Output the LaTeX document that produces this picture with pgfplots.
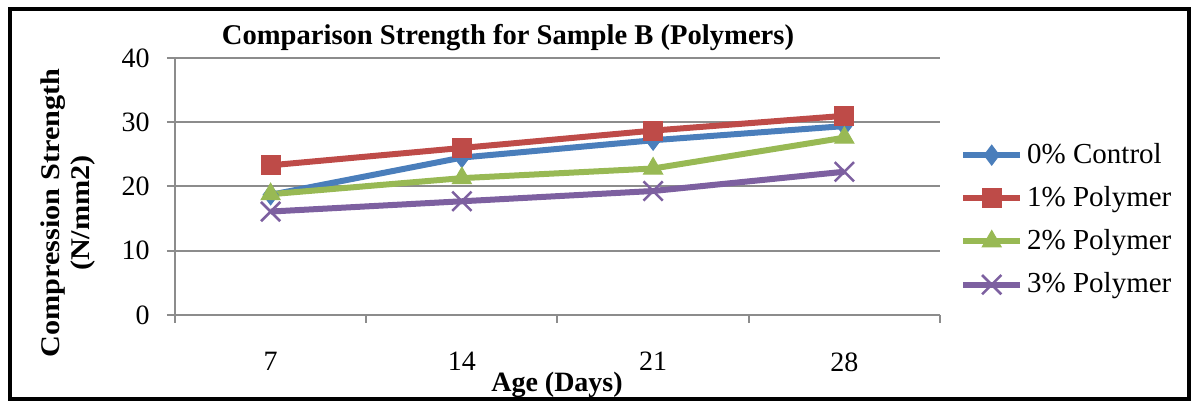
\documentclass[border=0pt]{standalone}
\usepackage{pgfplots}
\pgfplotsset{compat=1.18}
\usepackage{fontspec}
\setmainfont{Liberation Serif}
\definecolor{cblue}{HTML}{4A7EBB}
\definecolor{cred}{HTML}{BE4B48}
\definecolor{cgreen}{HTML}{98B954}
\definecolor{cpurple}{HTML}{7D60A0}
\definecolor{gridc}{HTML}{8C8C8C}
\begin{document}
\fontsize{13.5}{16}\selectfont
\begin{tikzpicture}
\useasboundingbox (-87.5pt,-45.5pt) rectangle (510pt,157.5pt);
\begin{axis}[
  at={(0,0)}, anchor=south west,
  scale only axis, width=382.5pt, height=128.5pt,
  xmin=0.5, xmax=4.5, ymin=0, ymax=40,
  xtick={1,2,3,4}, xticklabels={7,14,21,28},
  minor xtick={0.5,1.5,2.5,3.5,4.5},
  ytick={0,10,20,30,40},
  axis lines=left, axis line style={gridc, line width=1.2pt, -},
  tick align=outside, tick pos=left,
  major tick length=4pt, minor tick length=4pt,
  major x tick style={draw=none},
  every tick/.style={gridc, line width=1pt},
  ymajorgrids, major grid style={gridc, line width=1pt},
  /pgf/number format/assume math mode=true,
  ticklabel style={font=\fontsize{14}{16}\selectfont},
  xticklabel style={yshift=-10pt},
  yticklabel style={xshift=-4pt},
  legend style={at={(rel axis cs:1.026,0.37)}, anchor=west, draw=none,
     font=\fontsize{14.5}{17}\selectfont, row sep=5.5pt, inner sep=0pt},
  legend cell align=left,
  legend image code/.code={\draw[mark repeat=2,mark phase=2] plot coordinates {(0cm,0cm)(0.5cm,0cm)(1cm,0cm)};},
  every axis plot/.append style={line width=3pt},
  clip=false,
]
\addplot[cblue, mark=diamond*, mark size=5pt, mark options={line width=0.5pt}] coordinates {(1,18.7)(2,24.5)(3,27.2)(4,29.4)};
\addplot[cred, mark=square*, mark size=4.8pt, mark options={line width=0.5pt}] coordinates {(1,23.3)(2,26.0)(3,28.7)(4,31.0)};
\addplot[cgreen, mark=triangle*, mark size=5.5pt, mark options={line width=0.5pt}] coordinates {(1,18.8)(2,21.3)(3,22.8)(4,27.6)};
\addplot[cpurple, mark=x, mark size=6.8pt, mark options={line width=1.3pt}] coordinates {(1,16.1)(2,17.7)(3,19.3)(4,22.3)};
\legend{0\% Control,1\% Polymer,2\% Polymer,3\% Polymer}
\end{axis}
\node[font=\bfseries\fontsize{14.3}{16}\selectfont] at (166.5pt,138.5pt) {Comparison Strength for Sample B (Polymers)};
\node[font=\bfseries\fontsize{13.5}{15}\selectfont, rotate=90, xscale=1.12, align=center] at (-53.5pt,51pt) {Compression Strength\\(N/mm2)};
\node[font=\bfseries\fontsize{14}{16}\selectfont] at (191pt,-35pt) {Age (Days)};
\draw[line width=2pt] (-82.5pt,-42pt) rectangle (507pt,153pt);
\end{tikzpicture}
\end{document}
